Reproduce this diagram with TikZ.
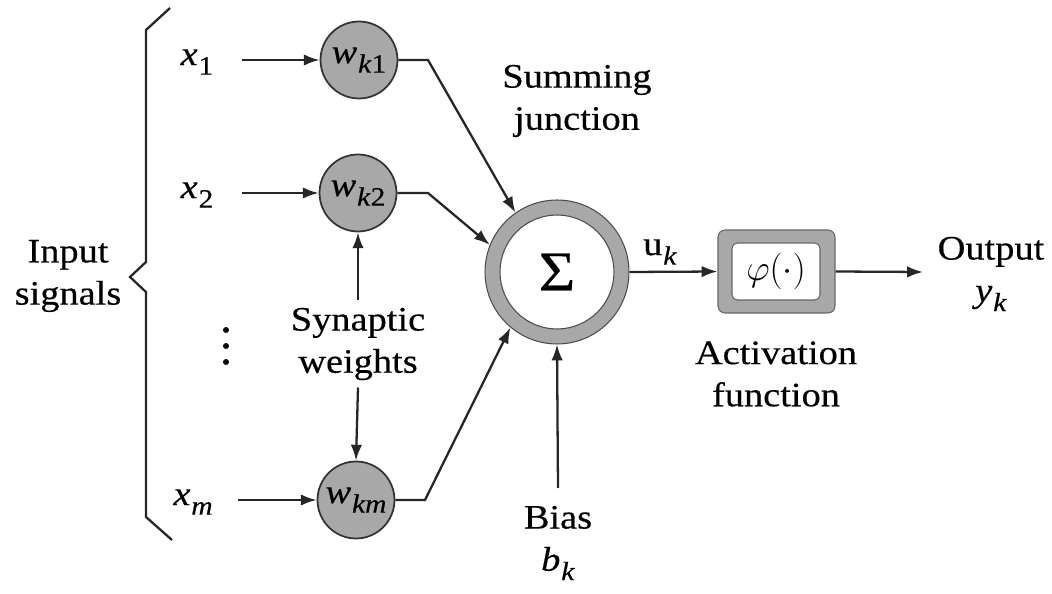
\documentclass[tikz,border=0pt]{standalone}
\usepackage{fontspec}
\setmainfont[FakeStretch=1.12,FakeBold=0.4]{Liberation Serif}
\usetikzlibrary{arrows.meta}
\definecolor{ringgray}{RGB}{168,168,168}
\newcommand{\vsub}[2]{#1\kern0.5pt\raisebox{-0.6ex}{\fontsize{15}{15}\selectfont #2}}
\begin{document}
\begin{tikzpicture}[x=0.02cm,y=-0.02cm,
  font=\fontsize{19.5}{24}\selectfont,
  line/.style={line width=1.3pt, draw=black!85},
  arr/.style={line, -{Latex[length=9pt,width=6.5pt]}},
  wnode/.style={circle, draw=black!80, line width=1pt, fill=ringgray,
                minimum size=1.54cm, inner sep=0pt},
  lbl/.style={align=center, inner sep=0pt}]
\useasboundingbox (0,0) rectangle (1052,594);

% brace
\draw[line] (170,8) -- (146,30) -- (146,262) -- (130,277) -- (146,292)
  -- (146,517) -- (172,540);
\node[lbl] (insig) at (68,276) {Input\\signals};

% inputs
\node[lbl] (x1) at (197,62) {\vsub{\textit{x}}{1}};
\node[lbl] (x2) at (197,195) {\vsub{\textit{x}}{2}};
\node[lbl] (xm) at (193,502) {\vsub{\textit{x}}{\textit{m}}};
\fill (226,330) circle[radius=3];
\fill (226,346) circle[radius=3];
\fill (226,362) circle[radius=3];

\coordinate (a1) at (242,60);
\coordinate (a2) at (242,193);
\coordinate (am) at (238,500);

% weights
\node[wnode] (w1) at (359,60) {\vsub{\textit{w}}{\textit{k}1}};
\node[wnode] (w2) at (358,193) {\vsub{\textit{w}}{\textit{k}2}};
\node[wnode] (wm) at (356,500) {\vsub{\textit{w}}{\textit{km}}};

\draw[arr] (a1) -- (w1);
\draw[arr] (a2) -- (w2);
\draw[arr] (am) -- (wm);

\node[lbl, inner sep=4pt] (sw) at (358,344) {Synaptic\\weights};
\draw[arr] (sw.north) -- (w2.south);
\draw[arr] (sw.south) -- (wm.north);

% summing junction
\node[circle, draw=black!70, line width=0.6pt, fill=ringgray,
      minimum size=2.88cm] (sigo) at (557,272) {};
\node[circle, draw=black!70, line width=0.6pt, fill=white,
      minimum size=2.28cm, font=\fontsize{32}{32}\selectfont] (sig) at (557,272) {Σ};
\node[lbl] (sumlbl) at (577,101) {Summing\\junction};

\coordinate (b1) at (428,60);
\coordinate (b2) at (428,193);
\coordinate (bm) at (425,500);
\draw[arr] (w1) -- (b1) -- (sigo.125);
\draw[arr] (w2) -- (b2) -- (sigo.158);
\draw[arr] (wm) -- (bm) -- (sigo.230);

% bias
\node[lbl] (bias) at (558,543) {Bias\\\vsub{\textit{b}}{\textit{k}}};
\coordinate (bb) at (558,488);
\draw[arr] (bb) -- (sigo.south);

% activation
\node[draw=black!60, line width=0.6pt, fill=ringgray, rounded corners=4pt,
      minimum width=2.34cm, minimum height=1.66cm] (act) at (776.5,271.5) {};
\node[draw=black!60, line width=0.6pt, fill=white, rounded corners=3pt,
      minimum width=1.76cm, minimum height=1.14cm] (phi) at (776,271.5) {$\varphi(\cdot)$};
\node[lbl] (actlbl) at (776,374) {Activation\\function};

\draw[arr] (sigo.east) -- (act.west);
\node[lbl] (uk) at (660,252) {\vsub{u}{\textit{k}}};

% output
\coordinate (oe) at (923,272);
\draw[arr] (act.east) -- (oe);
\node[lbl] (out) at (991,274) {Output\\\vsub{\textit{y}}{\textit{k}}};
\end{tikzpicture}
\end{document}
